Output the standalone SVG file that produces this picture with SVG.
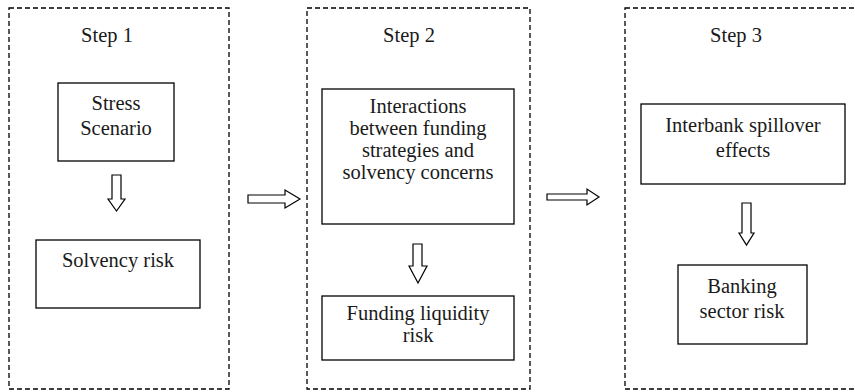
<svg xmlns="http://www.w3.org/2000/svg" width="855" height="392" viewBox="0 0 855 392">
<style>
.frame{fill:none;stroke:#000;stroke-width:1.3;stroke-dasharray:5 3}
.box{fill:#fff;stroke:#000;stroke-width:1.3}
.arr{fill:#fff;stroke:#000;stroke-width:1.2;stroke-linejoin:miter}
text{font-family:"Liberation Serif","Times New Roman",serif;font-size:20.5px;fill:#1a1a1a;text-anchor:middle}
</style>
<rect width="855" height="392" fill="#fff"/>
<g id="step1">
<rect class="frame" x="9" y="8" width="220" height="381"/>
<text x="107" y="42">Step 1</text>
</g>
<g id="step2">
<rect class="frame" x="307" y="8" width="223" height="381"/>
<text x="409" y="42">Step 2</text>
</g>
<g id="step3">
<rect class="frame" x="625" y="8" width="232" height="381"/>
<text x="736" y="42">Step 3</text>
</g>
<g id="stress">
<rect class="box" x="58" y="83" width="116" height="78"/>
<text x="116" y="110">Stress</text>
<text x="116" y="135">Scenario</text>
</g>
<g id="solvency">
<rect class="box" x="36" y="240" width="164" height="68"/>
<text x="118" y="267">Solvency risk</text>
</g>
<g id="interactions">
<rect class="box" x="322" y="89" width="192" height="135"/>
<text x="418" y="113">Interactions</text>
<text x="418" y="135">between funding</text>
<text x="418" y="157">strategies and</text>
<text x="418" y="179">solvency concerns</text>
</g>
<g id="funding">
<rect class="box" x="322" y="296" width="192" height="64"/>
<text x="418" y="320">Funding liquidity</text>
<text x="418" y="342">risk</text>
</g>
<g id="interbank">
<rect class="box" x="641" y="104" width="204" height="80"/>
<text x="743" y="132">Interbank spillover</text>
<text x="743" y="157">effects</text>
</g>
<g id="banking">
<rect class="box" x="678" y="265" width="129" height="79"/>
<text x="742" y="293">Banking</text>
<text x="742" y="318">sector risk</text>
</g>
<g id="connectors">
<polygon class="arr" points="112,175 121,175 121,199 125,199 116.5,211 108,199 112,199"/>
<polygon class="arr" points="413,244 422,244 422,266 427,266 418,283 409,266 413,266"/>
<polygon class="arr" points="742,203 751,203 751,233 754,233 746.5,245 739,233 742,233"/>
<polygon class="arr" points="248,195 285,195 285,190 300,199 285,208 285,203 248,203"/>
<polygon class="arr" points="547,194 587,194 587,189 599,197 587,205 587,200 547,200"/>
</g>
</svg>
